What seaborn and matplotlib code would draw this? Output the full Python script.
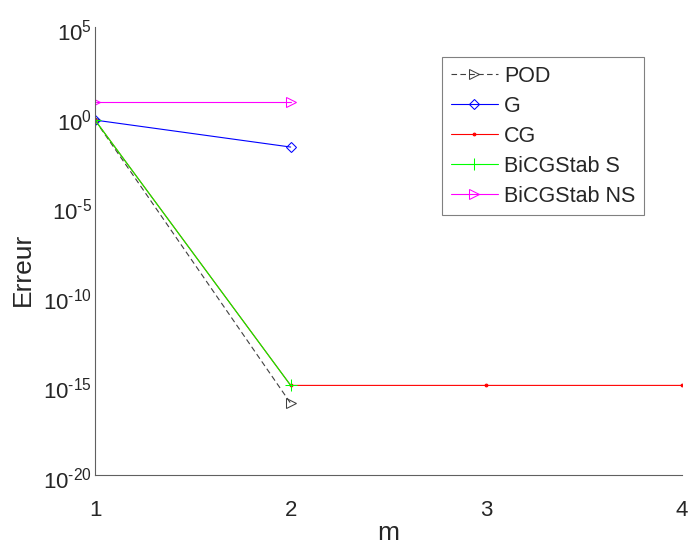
import matplotlib
matplotlib.use("Agg")
import matplotlib.pyplot as plt
import matplotlib.transforms as mtransforms
import seaborn as sns
import pandas as pd

sns.set_style("white")
plt.rcParams['font.family'] = ['Liberation Sans', 'DejaVu Sans']
plt.rcParams['mathtext.fontset'] = 'custom'
plt.rcParams['mathtext.rm'] = 'Liberation Sans'
plt.rcParams['mathtext.it'] = 'Liberation Sans'

m_pod = [1, 2]
err_pod = [0.64, 1e-16]
m_g = [1, 2]
err_g = [0.64, 0.02]
m_cg = [1, 2, 3, 4]
err_cg = [0.64, 1e-15, 1e-15, 1e-15]
m_bs = [1, 2]
err_bs = [0.64, 1e-15]
m_bns = [1, 2]
err_bns = [6.7, 6.7]
ytick_vals = [1e-20, 1e-15, 1e-10, 1e-5, 1e0, 1e5]
ytick_exps = ['-20', '-15', '-10', '-5', '0', '5']
xtick_vals = [1, 2, 3, 4]

series = [
    ("POD", m_pod, err_pod, "#404040", (0, (5, 3)), ">", 7, 'none'),
    ("G", m_g, err_g, "#0000ff", "-", "D", 5, 'none'),
    ("CG", m_cg, err_cg, "#ff0000", "-", ".", 4, '#ff0000'),
    ("BiCGStab S", m_bs, err_bs, "#00ff00", "-", "+", 8, '#00ff00'),
    ("BiCGStab NS", m_bns, err_bns, "#ff00ff", "-", ">", 7, 'none'),
]

fig = plt.figure(figsize=(6.89, 5.49), dpi=100)
ax = fig.add_axes([0.1379, 0.1348, 0.8519, 0.816])

for name, xs, ys, col, ls, mk, ms, mfc in series:
    df = pd.DataFrame({"m": xs, "err": ys})
    sns.lineplot(data=df, x="m", y="err", ax=ax, color=col, linestyle=ls,
                 marker=mk, markersize=ms, markerfacecolor=mfc,
                 markeredgecolor=col, linewidth=0.8, label=name)

ax.set_yscale('log')
ax.set_ylim(1e-20, 1e5)
ax.set_xlim(1, 4)
ax.set_xticks(xtick_vals)
ax.set_xticklabels([str(v) for v in xtick_vals])
ax.set_yticks(ytick_vals)
ax.set_yticklabels([r'$10^{' + e.replace('-', '\u2010') + '}$' for e in ytick_exps])
ax.minorticks_off()
ax.tick_params(axis='both', direction='in', length=5, width=0.8, color='#606060',
               labelsize=16)
ax.tick_params(axis='x', pad=18)
ax.tick_params(axis='y', pad=2)
offset = mtransforms.ScaledTranslation(0, -3 / 100, fig.dpi_scale_trans)
for lab in ax.get_yticklabels():
    lab.set_transform(lab.get_transform() + offset)
for s in ['top', 'right']:
    ax.spines[s].set_visible(False)
for s in ['left', 'bottom']:
    ax.spines[s].set_color('#606060')
    ax.spines[s].set_linewidth(0.8)
ax.set_xlabel('m', fontsize=19, labelpad=0)
ax.set_ylabel('Erreur', fontsize=19)
ax.yaxis.set_label_coords(-0.102, 0.458)

leg = ax.legend(loc='upper left', bbox_to_anchor=(0.591, 0.933), fontsize=15.5,
                frameon=True, fancybox=False, edgecolor='#606060',
                handlelength=2.2, handletextpad=0.3, borderpad=0.4,
                labelspacing=0.42, borderaxespad=0)
leg.get_frame().set_linewidth(0.8)

fig.savefig("out.png", dpi=100)
